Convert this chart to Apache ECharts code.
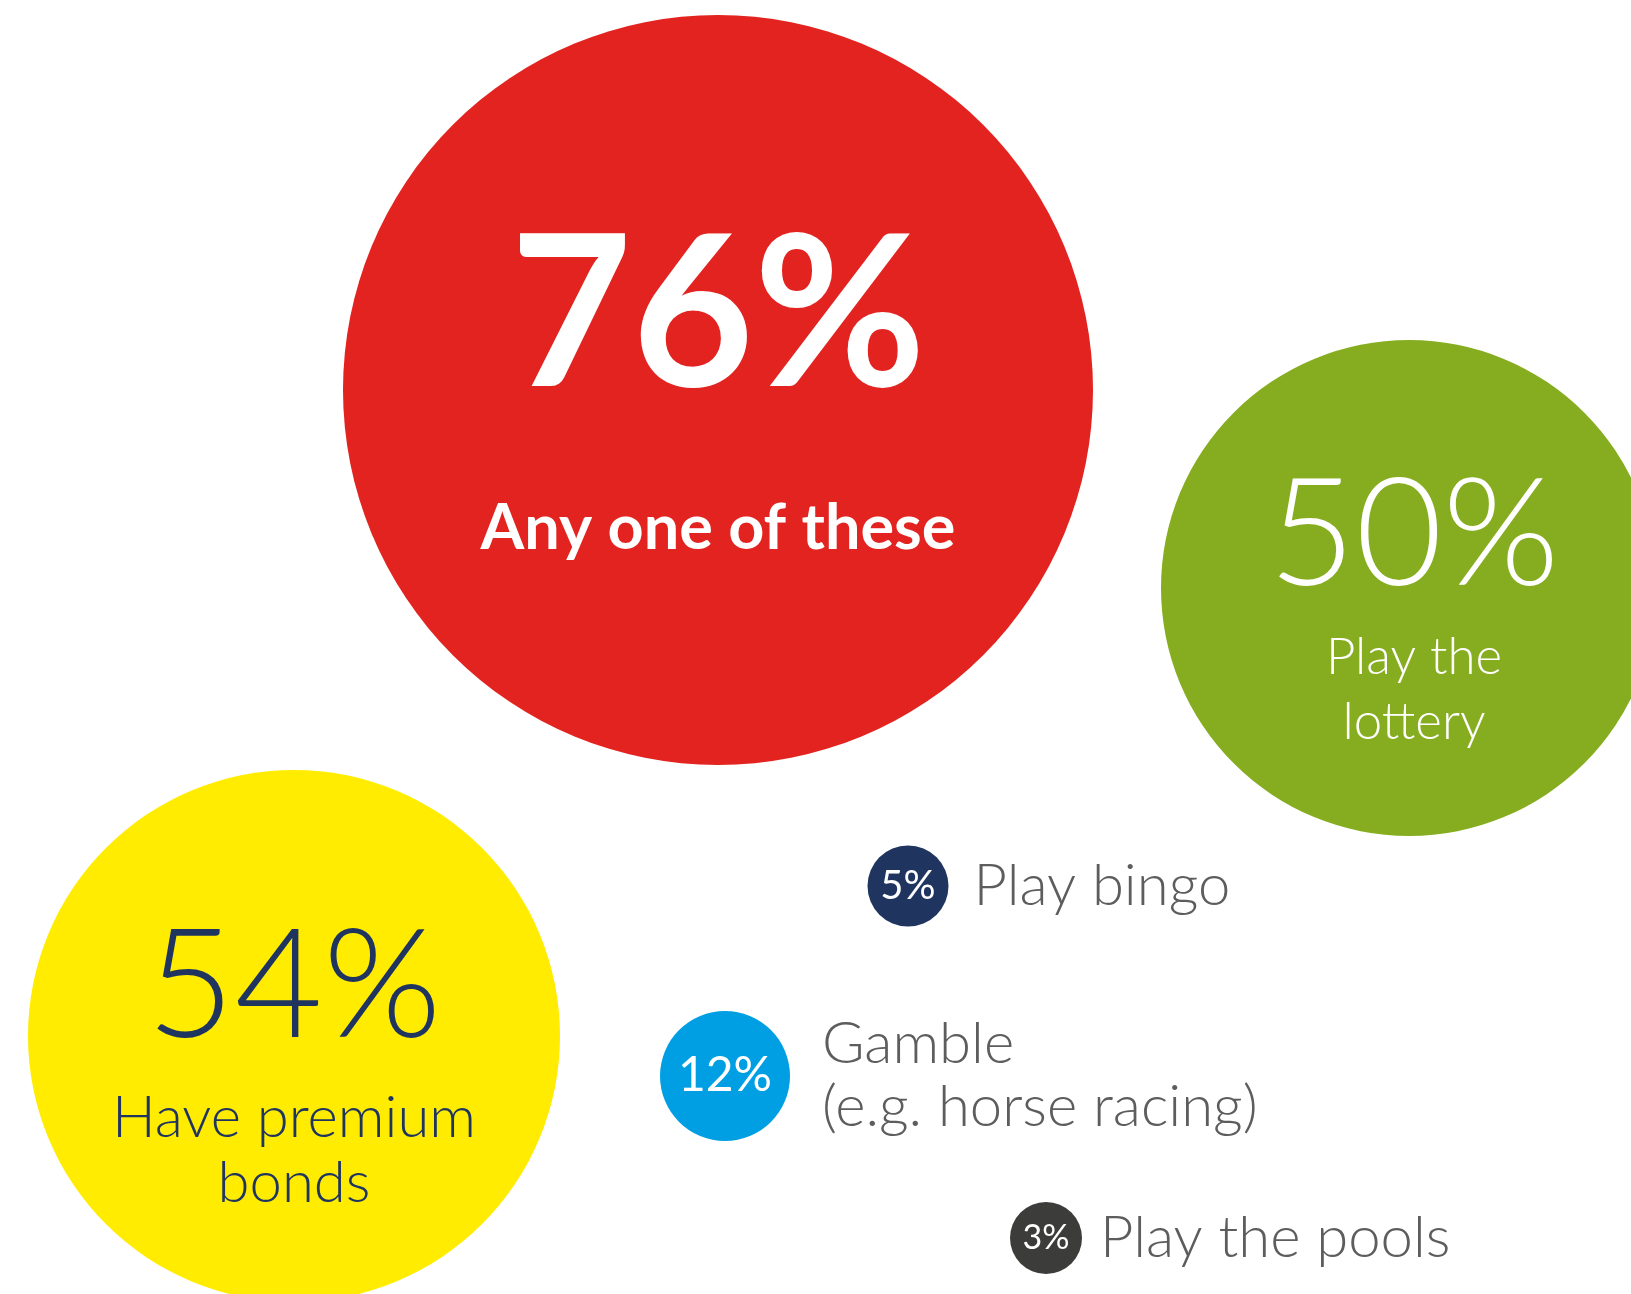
<!DOCTYPE html>
<html>
<head>
<meta charset="utf-8">
<script src="https://cdn.jsdelivr.net/npm/echarts@6/dist/echarts.min.js"></script>
<style>
  html, body { margin: 0; padding: 0; background: #fff; }
  #chart { width: 1631px; height: 1294px; }
</style>
</head>
<body>
<div id="chart"></div>
<script>
// data
const categories = ['Any one of these', 'Play the\nlottery', 'Have premium\nbonds', 'Play bingo', 'Gamble\n(e.g. horse racing)', 'Play the pools']
const percentValues = [76, 50, 54, 5, 12, 3]

// layout of the bubbles (centre in axis units, diameter in px) - styling only
const bubbleLayout = [
  { x: 718, y: 390, size: 750, color: '#E2231F' },
  { x: 1409, y: 588, size: 496, color: '#86AD1F' },
  { x: 294, y: 1036, size: 532, color: '#FFEC00' },
  { x: 908, y: 886, size: 81, color: '#1F3560' },
  { x: 725, y: 1076, size: 130, color: '#009FE3' },
  { x: 1046, y: 1238, size: 72, color: '#3C3C3B' },
]

const FONT = 'Lato'
const GREY = '#5d5d5d'

// label styles for big bubbles (percent + text inside)
const bigLabels = [
  {
    offset: [0, 19],
    rich: {
      pct: { fontSize: 210, fontWeight: 'bold', color: '#fff', lineHeight: 240, fontFamily: FONT },
      desc: { fontSize: 63, fontWeight: 'bold', color: '#fff', lineHeight: 181, fontFamily: FONT },
    },
  },
  {
    offset: [5, 14],
    rich: {
      pct: { fontSize: 150, fontWeight: 300, color: '#fff', lineHeight: 177, fontFamily: FONT },
      desc: { fontSize: 51, fontWeight: 300, color: '#fff', lineHeight: 65, fontFamily: FONT },
    },
  },
  {
    offset: [0, 17],
    rich: {
      pct: { fontSize: 152, fontWeight: 300, color: '#1F3560', lineHeight: 195, fontFamily: FONT },
      desc: { fontSize: 58, fontWeight: 300, color: '#1F3560', lineHeight: 65, fontFamily: FONT },
    },
  },
]
const smallPctFont = [40, 48, 34]
const sideDistance = [25, 32, 18]

const chart = echarts.init(document.getElementById('chart'))

const bubbleData = percentValues.map((v, i) => {
  const lay = bubbleLayout[i]
  const item = {
    name: categories[i],
    value: [lay.x, lay.y, v],
    symbolSize: lay.size,
    itemStyle: { color: lay.color, opacity: 1 },
  }
  if (i < 3) {
    item.label = Object.assign({ show: true, position: 'inside', align: 'center', verticalAlign: 'middle' }, bigLabels[i])
  } else {
    item.label = {
      show: true,
      position: 'inside',
      color: '#fff',
      fontFamily: FONT,
      fontSize: smallPctFont[i - 3],
      fontWeight: 'normal',
    }
  }
  return item
})

const sideData = percentValues.slice(3).map((v, j) => {
  const i = j + 3
  const lay = bubbleLayout[i]
  return {
    name: categories[i],
    value: [lay.x, lay.y, v],
    symbolSize: lay.size,
    label: { distance: sideDistance[j] },
  }
})

const option = {
  backgroundColor: '#fff',
  animation: false,
  grid: { left: 0, right: 0, top: 0, bottom: 0 },
  xAxis: { type: 'value', min: 0, max: 1631, show: false },
  yAxis: { type: 'value', min: 0, max: 1294, inverse: true, show: false },
  series: [
    {
      type: 'scatter',
      clip: false,
      data: bubbleData,
      label: {
        formatter: (p) => (p.dataIndex < 3 ? `{pct|${p.value[2]}%}\n{desc|${p.name}}` : `${p.value[2]}%`),
      },
      emphasis: { disabled: true },
    },
    {
      type: 'scatter',
      clip: false,
      data: sideData,
      itemStyle: { color: 'transparent', opacity: 1 },
      label: {
        show: true,
        position: 'right',
        formatter: (p) => p.name,
        color: GREY,
        fontFamily: FONT,
        fontSize: 58,
        fontWeight: 300,
        lineHeight: 63,
      },
      emphasis: { disabled: true },
    },
  ],
}

chart.setOption(option)
window.addEventListener('resize', () => chart.resize())
</script>
</body>
</html>
